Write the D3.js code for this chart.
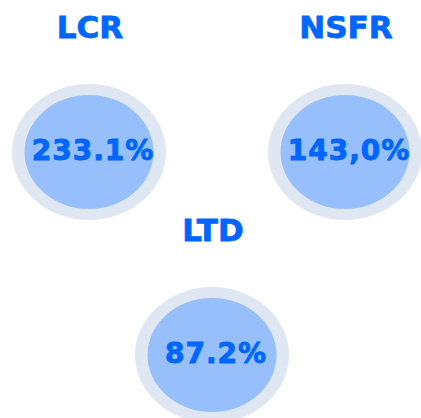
<!DOCTYPE html>
<html>
<head>
<meta charset="utf-8">
<script src="https://cdn.jsdelivr.net/npm/d3@7"></script>
<style>
  html, body { margin: 0; padding: 0; background: #ffffff; }
  svg { display: block; }
</style>
</head>
<body>
<script>
// ratio names and their reported values
const ratioNames = ["LCR", "NSFR", "LTD"];
const ratioValues = [233.1, 143.0, 87.2];
const ratioLabels = ["233.1%", "143,0%", "87.2%"];

const width = 421, height = 418;

const data = ratioNames.map((name, i) => ({name: name, value: ratioValues[i], label: ratioLabels[i], row: i < 2 ? 0 : 1}));

const svg = d3.select("body").append("svg")
    .attr("width", width)
    .attr("height", height);

// column centre per ratio, row offset per line of badges
const xScale = d3.scaleOrdinal()
    .domain(ratioNames)
    .range([89, 345, 212]);

const yScale = d3.scaleLinear()
    .domain([0, 1])
    .range([0, 203]);

const badge = svg.selectAll("g.badge")
    .data(data)
    .enter()
    .append("g")
    .attr("class", "badge")
    .attr("transform", d => `translate(${xScale(d.name)},${yScale(d.row)})`);

// title
badge.append("text")
    .attr("x", 1)
    .attr("y", 38)
    .attr("text-anchor", "middle")
    .style("font-family", "'DejaVu Sans', sans-serif")
    .style("font-weight", "bold")
    .style("font-size", "31px")
    .style("fill", "#0066ff")
    .style("stroke", "#0066ff")
    .style("stroke-width", 0.8)
    .text(d => d.name);

// outer ring
badge.append("ellipse")
    .attr("cx", 0)
    .attr("cy", 152)
    .attr("rx", 77)
    .attr("ry", 68)
    .style("fill", "#dfe7f3");

// inner disc
badge.append("ellipse")
    .attr("cx", 0)
    .attr("cy", 152)
    .attr("rx", 64.5)
    .attr("ry", 57)
    .style("fill", "#96bffc");

// value
badge.append("text")
    .attr("x", 4)
    .attr("y", 160)
    .attr("text-anchor", "middle")
    .style("font-family", "'DejaVu Sans', sans-serif")
    .style("font-weight", "bold")
    .style("font-size", "28px")
    .style("letter-spacing", "1px")
    .style("fill", "#0066ff")
    .style("stroke", "#0066ff")
    .style("stroke-width", 0.9)
    .text(d => d.label);
</script>
</body>
</html>
